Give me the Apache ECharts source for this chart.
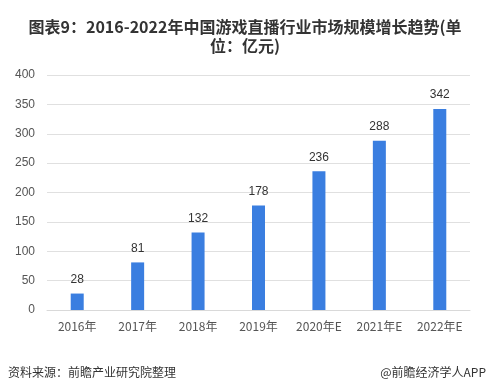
<!DOCTYPE html>
<html><head><meta charset="utf-8">
<script src="https://cdn.jsdelivr.net/npm/echarts@6/dist/echarts.min.js"></script>
<style>html,body{margin:0;padding:0;background:#fff}#c{width:490px;height:392px}</style>
</head><body><div id="c"></div>
<script>
var categories = ['2016年','2017年','2018年','2019年','2020年E','2021年E','2022年E'];
var values = [28, 81, 132, 178, 236, 288, 342];
var yTicks = [0, 50, 100, 150, 200, 250, 300, 350, 400];
var titleText = '图表9：2016-2022年中国游戏直播行业市场规模增长趋势(单\n位：亿元)';
var sourceText = '资料来源：前瞻产业研究院整理';
var brandText = '@前瞻经济学人APP';

var chart = echarts.init(document.getElementById('c'));
chart.setOption({
  animation: false,
  title: {
    text: titleText, left: 'center', top: 12,
    textStyle: {fontSize: 16, fontWeight: 'bold', color: '#333', lineHeight: 19,
      fontFamily: '"Noto Sans CJK SC", sans-serif'}
  },
  graphic: [
    {type: 'text', left: 8, top: 366, style: {text: sourceText, fontSize: 12, fill: '#333',
      fontFamily: '"Noto Sans CJK SC", sans-serif'}},
    {type: 'text', right: 4, top: 366, style: {text: brandText, fontSize: 12, fill: '#333',
      fontFamily: '"Noto Sans CJK SC", sans-serif'}}
  ],
  grid: {left: 47, right: 20, top: 75, bottom: 82},
  xAxis: {
    type: 'category', data: categories,
    axisLine: {lineStyle: {color: '#d9d9d9'}},
    axisTick: {show: false},
    axisLabel: {color: '#555', fontSize: 12, margin: 10, fontFamily: '"Noto Sans CJK SC", sans-serif'}
  },
  yAxis: {
    type: 'value', min: yTicks[0], max: yTicks[yTicks.length-1], interval: 50,
    axisLine: {show: false}, axisTick: {show: false},
    splitLine: {lineStyle: {color: '#e0e0e0'}},
    axisLabel: {color: '#555', fontSize: 12, margin: 12}
  },
  series: [{
    type: 'bar', data: values, barWidth: 13,
    itemStyle: {color: '#3a7ee0'},
    label: {show: true, position: 'top', color: '#333', fontSize: 12, distance: 8}
  }]
});
</script></body></html>
